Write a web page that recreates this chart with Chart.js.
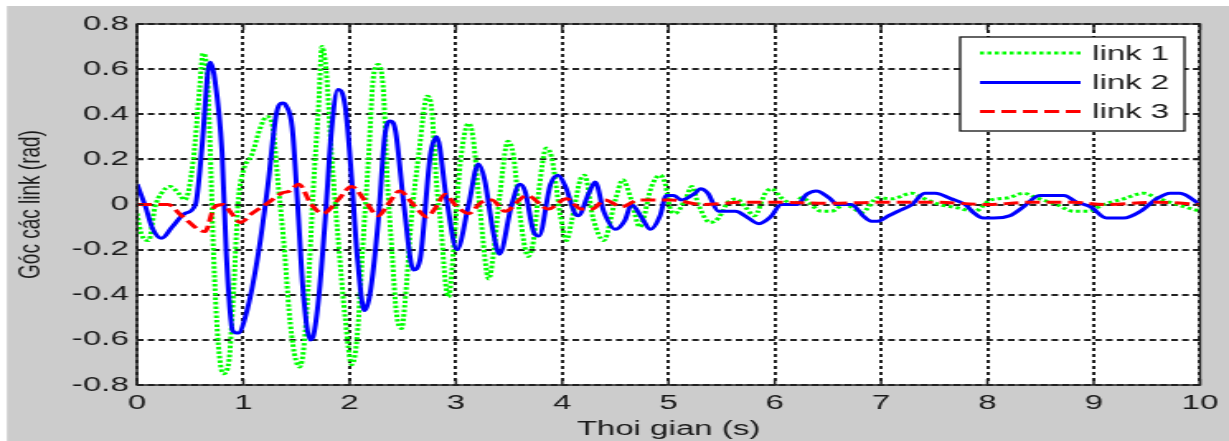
<!DOCTYPE html>
<html>
<head>
<meta charset="utf-8">
<script src="https://cdn.jsdelivr.net/npm/chart.js@4.4.1/dist/chart.umd.min.js"></script>
<style>
  body { margin: 0; background: #fff; }
  #wrap { width: 1229px; height: 441px; overflow: hidden; }
  #chart { width: 745px; height: 441px; transform: scaleX(1.6497); transform-origin: 0 0; }
</style>
</head>
<body>
<div id="wrap"><canvas id="chart" width="745" height="441"></canvas></div>
<script>
// link 1 (green dotted)
const link1Time = [0, 0.04, 0.11, 0.17, 0.23, 0.31, 0.39, 0.45, 0.53, 0.59, 0.62, 0.66, 0.69, 0.72, 0.76, 0.81, 0.86, 0.91, 0.95,
  1.0, 1.08, 1.16, 1.22, 1.27, 1.33, 1.39, 1.43, 1.48, 1.53, 1.57, 1.61, 1.66, 1.71, 1.74, 1.78, 1.83, 1.89, 1.96,
  2.02, 2.07, 2.13, 2.18, 2.22, 2.27, 2.32, 2.35, 2.4, 2.44, 2.49, 2.52, 2.58, 2.65, 2.73, 2.77, 2.82, 2.86, 2.9, 2.93, 2.99,
  3.04, 3.12, 3.16, 3.23, 3.31, 3.35, 3.41, 3.49, 3.54, 3.6, 3.68, 3.73, 3.78, 3.85, 3.9, 3.98,
  4.04, 4.09, 4.17, 4.21, 4.29, 4.39, 4.5, 4.57, 4.65, 4.73, 4.84, 4.92, 4.97,
  5.01, 5.06, 5.16, 5.22, 5.28, 5.39, 5.47, 5.56, 5.64, 5.72, 5.81, 5.91, 5.97,
  6.06, 6.19, 6.25, 6.44, 6.53, 6.66, 6.82, 6.97, 7.1, 7.29, 7.41, 7.55, 7.72, 7.88,
  8.03, 8.2, 8.34, 8.46, 8.65, 8.81, 8.95, 9.09, 9.28, 9.47, 9.59, 9.78, 10];
const link1Angle = [-0.04, -0.13, -0.16, -0.01, 0.05, 0.08, 0.05, 0.02, 0.2, 0.52, 0.67, 0.58, 0.22, -0.22, -0.59, -0.75, -0.71, -0.37, 0,
  0.15, 0.22, 0.34, 0.39, 0.36, 0.08, -0.22, -0.47, -0.66, -0.72, -0.63, -0.37, 0.08, 0.45, 0.7, 0.59, 0.22, -0.14, -0.51,
  -0.71, -0.59, -0.14, 0.22, 0.55, 0.62, 0.49, 0.15, -0.22, -0.48, -0.55, -0.44, -0.07, 0.22, 0.48, 0.43, 0.08, -0.1, -0.34, -0.41, -0.12,
  0.18, 0.36, 0.3, -0.04, -0.33, -0.23, 0.03, 0.28, 0.22, -0.04, -0.23, -0.16, 0.06, 0.25, 0.21, -0.04,
  -0.16, -0.07, 0.11, 0.13, -0.06, -0.16, 0.02, 0.11, 0.02, -0.1, 0.08, 0.13, 0.09,
  -0.01, -0.04, 0.025, 0.08, 0, -0.08, -0.06, 0.01, 0.025, -0.01, -0.05, 0.05, 0.07,
  0.03, 0, 0.03, -0.03, -0.03, 0, -0.035, 0.03, 0.025, 0.05, 0.025, 0, -0.015, -0.03,
  0.02, 0.03, 0.05, 0.03, 0, -0.03, -0.03, 0, 0.025, 0.05, 0.03, 0, -0.03];

// link 2 (blue solid)
const link2Time = [0, 0.08, 0.14, 0.23, 0.33, 0.45, 0.55, 0.61, 0.67, 0.69, 0.73, 0.8, 0.84, 0.9, 0.95,
  1.04, 1.14, 1.23, 1.31, 1.37, 1.4, 1.46, 1.52, 1.56, 1.63, 1.66, 1.71, 1.77, 1.83, 1.89, 1.96,
  2.02, 2.07, 2.14, 2.19, 2.27, 2.33, 2.38, 2.43, 2.51, 2.6, 2.66, 2.76, 2.82, 2.91,
  3.01, 3.12, 3.21, 3.27, 3.35, 3.41, 3.52, 3.6, 3.65, 3.73, 3.78, 3.89, 3.96,
  4.03, 4.12, 4.15, 4.25, 4.31, 4.39, 4.5, 4.59, 4.65, 4.75, 4.83, 4.92, 4.98,
  5.05, 5.12, 5.25, 5.3, 5.37, 5.47, 5.56, 5.63, 5.72, 5.85, 5.96,
  6.06, 6.21, 6.3, 6.39, 6.51, 6.59, 6.72, 6.83, 6.91, 6.97,
  7.07, 7.16, 7.29, 7.41, 7.51, 7.66, 7.79, 7.88, 7.96,
  8.06, 8.21, 8.34, 8.49, 8.72, 8.84, 8.97, 9.12, 9.28, 9.44, 9.59, 9.72, 9.81, 10];
const link2Angle = [0.09, -0.01, -0.1, -0.15, -0.1, -0.04, 0, 0.25, 0.6, 0.63, 0.56, 0.23, -0.22, -0.56, -0.57,
  -0.46, -0.22, 0.08, 0.4, 0.45, 0.44, 0.34, -0.07, -0.37, -0.6, -0.58, -0.41, -0.07, 0.33, 0.51, 0.43,
  0.11, -0.22, -0.47, -0.4, -0.07, 0.3, 0.37, 0.33, 0, -0.29, -0.25, 0.22, 0.3, 0.03,
  -0.2, 0, 0.18, 0.11, -0.12, -0.22, -0.01, 0.09, 0.06, -0.12, -0.14, 0.09, 0.13,
  0.08, -0.04, -0.05, 0.05, 0.1, -0.03, -0.11, -0.07, 0, -0.06, -0.11, -0.05, 0.04,
  0.04, 0.02, 0.05, 0.07, 0.05, -0.03, -0.03, -0.03, -0.05, -0.085, -0.055,
  0, 0, 0.045, 0.06, 0.03, 0, 0, -0.05, -0.074, -0.074,
  -0.05, -0.03, 0, 0.05, 0.05, 0.025, 0, -0.04, -0.06,
  -0.06, -0.05, -0.01, 0.04, 0.04, 0.01, -0.01, -0.06, -0.06, -0.03, 0.025, 0.05, 0.05, 0];

// link 3 (red dashed)
const link3Time = [0, 0.29, 0.42, 0.64, 0.73, 0.81, 0.89, 0.97, 1.08, 1.24, 1.36, 1.44, 1.52, 1.64, 1.75, 1.89,
  2.02, 2.14, 2.27, 2.36, 2.47, 2.6, 2.73, 2.8, 2.9, 2.99, 3.12, 3.24, 3.34, 3.46, 3.67, 3.87,
  4.04, 4.18, 4.28, 4.4, 4.56, 4.72, 5.03, 5.31, 5.72, 6, 6.5, 7, 7.5, 8, 8.4, 8.8, 9.1, 9.6, 10];
const link3Angle = [0, 0, -0.05, -0.12, -0.01, 0, -0.04, -0.08, -0.04, 0.01, 0.05, 0.06, 0.09, 0, -0.04, 0.02,
  0.08, 0.02, -0.05, 0, 0.06, 0, -0.055, -0.02, 0.045, 0, -0.04, 0.01, 0.02, -0.03, 0.04, -0.02,
  0.025, -0.02, -0.02, 0.02, -0.01, 0.02, 0.02, 0, 0.01, 0.01, 0.005, 0.01, 0.01, 0, 0.01, 0.01, 0, 0.01, 0];

const xTicks = [0, 1, 2, 3, 4, 5, 6, 7, 8, 9, 10];
const yTicks = [-0.8, -0.6, -0.4, -0.2, 0, 0.2, 0.4, 0.6, 0.8];

const toPoints = (t, v) => t.map((x, i) => ({ x: x, y: v[i] }));

const FONT = "'Liberation Sans', Arial, sans-serif";
const TEXT = "#1a1a1a";
const GRAY = "#cccccc";

const matlabLook = {
  id: "matlabLook",
  beforeDraw(chart) {
    const ctx = chart.ctx;
    const a = chart.chartArea;
    ctx.save();
    ctx.fillStyle = "#ffffff";
    ctx.fillRect(0, 0, chart.width, chart.height);
    ctx.fillStyle = GRAY;
    ctx.fillRect(4.2, 6, chart.width, chart.height);
    ctx.fillStyle = "#ffffff";
    ctx.fillRect(a.left, a.top, a.right - a.left, a.bottom - a.top);
    ctx.restore();
  },
  afterDatasetsDraw(chart) {
    const ctx = chart.ctx;
    const a = chart.chartArea;
    const xs = chart.scales.x;
    const ys = chart.scales.y;
    ctx.save();
    ctx.strokeStyle = "#222";
    ctx.lineWidth = 1.5;
    ctx.setLineDash([]);
    ctx.strokeRect(a.left, a.top, a.right - a.left, a.bottom - a.top);
    // inward tick marks
    ctx.beginPath();
    xTicks.forEach((t) => {
      const px = xs.getPixelForValue(t);
      ctx.moveTo(px, a.bottom); ctx.lineTo(px, a.bottom - 6);
      ctx.moveTo(px, a.top); ctx.lineTo(px, a.top + 6);
    });
    yTicks.forEach((t) => {
      const py = ys.getPixelForValue(t);
      ctx.moveTo(a.left, py); ctx.lineTo(a.left + 4, py);
      ctx.moveTo(a.right, py); ctx.lineTo(a.right - 4, py);
    });
    ctx.stroke();

    // legend box
    const bx = 582, by = 37, bw = 136, bh = 94;
    ctx.fillStyle = "#ffffff";
    ctx.fillRect(bx, by, bw, bh);
    ctx.strokeStyle = "#111";
    ctx.lineWidth = 1.3;
    ctx.strokeRect(bx, by, bw, bh);
    const rows = [53, 82.5, 111.5];
    chart.data.datasets.forEach((ds, i) => {
      ctx.beginPath();
      ctx.strokeStyle = ds.borderColor;
      ctx.lineWidth = ds.borderWidth;
      ctx.setLineDash(ds.borderDash || []);
      ctx.moveTo(594, rows[i]);
      ctx.lineTo(655, rows[i]);
      ctx.stroke();
      ctx.setLineDash([]);
      ctx.fillStyle = TEXT;
      ctx.font = "20px " + FONT;
      ctx.textBaseline = "middle";
      ctx.textAlign = "left";
      ctx.fillText(ds.label, 662, rows[i] + 1);
    });
    ctx.restore();
  },
};

const ctx = document.getElementById("chart").getContext("2d");

new Chart(ctx, {
  type: "line",
  data: {
    datasets: [
      {
        label: "link 1",
        data: toPoints(link1Time, link1Angle),
        borderColor: "#00ff00",
        borderWidth: 3,
        borderDash: [2.5, 2],
        order: 3,
      },
      {
        label: "link 2",
        data: toPoints(link2Time, link2Angle),
        borderColor: "#0000ff",
        borderWidth: 3,
        order: 2,
      },
      {
        label: "link 3",
        data: toPoints(link3Time, link3Angle),
        borderColor: "#ff0000",
        borderWidth: 3,
        borderDash: [9, 4],
        order: 1,
      },
    ],
  },
  options: {
    responsive: false,
    animation: false,
    devicePixelRatio: 1,
    layout: { padding: { left: 0, right: 17.6, top: 24, bottom: 0 } },
    elements: {
      point: { radius: 0 },
      line: { cubicInterpolationMode: "monotone", fill: false },
    },
    plugins: { legend: { display: false }, tooltip: { enabled: false } },
    scales: {
      x: {
        type: "linear",
        min: 0,
        max: 10,
        afterFit: (s) => { s.height = 56; },
        afterBuildTicks: (s) => { s.ticks = xTicks.map((v) => ({ value: v })); },
        ticks: { padding: 6, color: TEXT, font: { family: FONT, size: 20 }, maxRotation: 0 },
        grid: { color: "#222", lineWidth: 2, drawTicks: false },
        border: { display: false, dash: [3, 3] },
        title: { display: true, text: "Thoi gian (s)", color: TEXT, font: { family: FONT, size: 20 }, padding: { top: 0, bottom: 0 } },
      },
      y: {
        min: -0.8,
        max: 0.8,
        afterFit: (s) => { s.width = 83.05; },
        afterBuildTicks: (s) => { s.ticks = yTicks.map((v) => ({ value: v })); },
        ticks: {
          padding: 5,
          color: TEXT,
          font: { family: FONT, size: 20 },
          callback: (v) => (Math.abs(v) < 1e-9 ? "0" : v.toFixed(1)),
        },
        grid: { color: "#222", lineWidth: 2, drawTicks: false },
        border: { display: false, dash: [4, 2.6] },
        title: { display: true, text: "Góc các link (rad)", color: TEXT, font: { family: FONT, size: 19 }, padding: { top: 7, bottom: 0 } },
      },
    },
  },
  plugins: [matlabLook],
});
</script>
</body>
</html>
